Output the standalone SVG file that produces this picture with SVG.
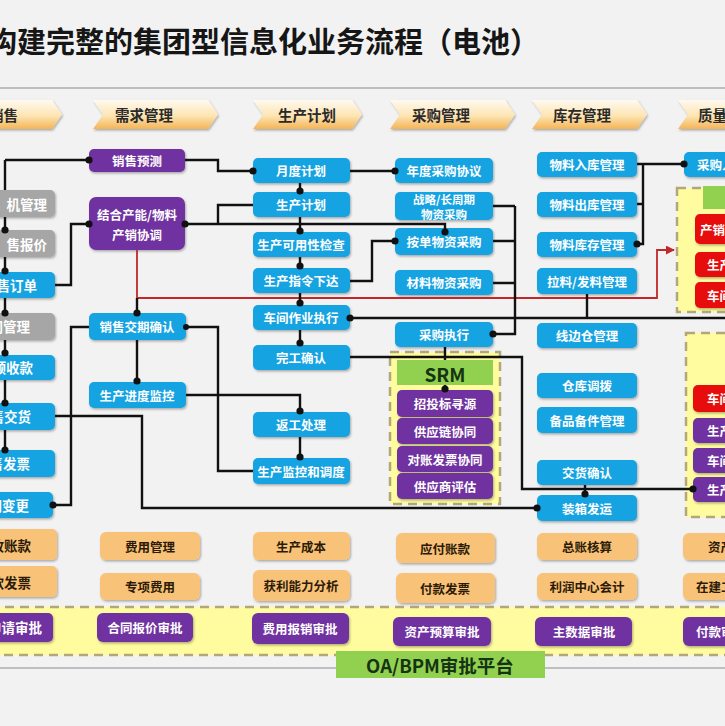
<svg xmlns="http://www.w3.org/2000/svg" width="725" height="726" viewBox="0 0 725 726">
<defs>
<linearGradient id="chev" x1="0" y1="0" x2="0" y2="1">
<stop offset="0" stop-color="#fffaf0"/>
<stop offset="0.55" stop-color="#fde4b2"/>
<stop offset="1" stop-color="#f4b457"/>
</linearGradient>
<filter id="sh" x="-10%" y="-20%" width="125%" height="150%">
<feDropShadow dx="1" dy="1.5" stdDeviation="1.2" flood-color="#000" flood-opacity="0.3"/>
</filter>
<marker id="ar" viewBox="0 0 10 10" refX="9" refY="5" markerWidth="5" markerHeight="5" orient="auto">
<path d="M0,0 L10,5 L0,10 z" fill="#c0282a"/>
</marker>
<style>
text{font-family:"Noto Sans CJK SC","Noto Sans",sans-serif;}
.t{font-size:12.5px;font-weight:700;text-anchor:middle;dominant-baseline:central;fill:#fff;}
.t2{font-size:11.5px;font-weight:700;text-anchor:middle;dominant-baseline:central;fill:#fff;}
.tl{font-size:13.5px;font-weight:700;text-anchor:end;dominant-baseline:central;fill:#fff;}
.ts{font-size:12.5px;font-weight:700;dominant-baseline:central;fill:#fff;}
.td{fill:#2b1a05;}
.h{font-size:14.5px;font-weight:700;fill:#2a2a2a;dominant-baseline:central;}
.b{fill:#17a3e2;filter:url(#sh);}
.g{fill:#a6a6a6;filter:url(#sh);}
.p{fill:#7030a0;filter:url(#sh);}
.o{fill:#f9c279;filter:url(#sh);}
.r{fill:#e8100f;filter:url(#sh);}
.gr{fill:#92d050;}
.ch{fill:url(#chev);filter:url(#sh);}
.dash{fill:#fefc9e;stroke:#b3a77a;stroke-width:2.5;stroke-dasharray:9 6;}
.ln{fill:none;stroke:#111;stroke-width:2.4;}
.red{fill:none;stroke:#c0282a;stroke-width:1.8;}
.dot{fill:#111;}
</style>
</defs>
<rect x="0" y="0" width="725" height="726" fill="#f2f2f2"/>
<text x="-12" y="53" font-size="29" font-weight="700" fill="#161616">构建完整的集团型信息化业务流程（电池）</text>
<line x1="0" y1="88" x2="725" y2="88" stroke="#8a8a8a" stroke-width="1.2"/>
<line x1="0" y1="668" x2="725" y2="668" stroke="#8a8a8a" stroke-width="1.2"/>

<g id="headers">
<g id="h1"><polygon class="ch" points="-60,100 52,100 62,114.5 52,129 -60,129 -50,114.5"/><text class="h" x="-11" y="114">销售</text></g>
<g id="h2"><polygon class="ch" points="93,100 208,100 218,114.5 208,129 93,129 103,114.5"/><text class="h" x="115" y="114">需求管理</text></g>
<g id="h3"><polygon class="ch" points="253,100 352,100 362,114.5 352,129 253,129 263,114.5"/><text class="h" x="278" y="114">生产计划</text></g>
<g id="h4"><polygon class="ch" points="390,100 505,100 515,114.5 505,129 390,129 400,114.5"/><text class="h" x="412" y="114">采购管理</text></g>
<g id="h5"><polygon class="ch" points="532,100 637,100 647,114.5 637,129 532,129 542,114.5"/><text class="h" x="553" y="114">库存管理</text></g>
<g id="h6"><polygon class="ch" points="678,100 790,100 800,114.5 790,129 678,129 688,114.5"/><text class="h" x="698" y="114">质量</text></g>
</g>

<g id="containers">
<rect id="band" class="dash" x="-10" y="607" width="745" height="48"/>
<rect id="srm-box" class="dash" x="390" y="352" width="110" height="152"/>
<rect id="q-box1" class="dash" x="677" y="188" width="60" height="124"/>
<rect id="q-box2" class="dash" x="686" y="333" width="50" height="184"/>
</g>

<g id="nodes">
<g id="n-l1"><rect class="g" x="-45" y="190" width="100" height="27" rx="5"/><text class="tl" x="47" y="204">机管理</text></g>
<g id="n-l2"><rect class="g" x="-45" y="230" width="100" height="27" rx="5"/><text class="tl" x="47" y="244">售报价</text></g>
<g id="n-l3"><rect class="b" x="-45" y="272" width="100" height="26" rx="5"/><text class="tl" x="37" y="285">售订单</text></g>
<g id="n-l4"><rect class="g" x="-45" y="313" width="100" height="27" rx="5"/><text class="tl" x="30" y="326">同管理</text></g>
<g id="n-l5"><rect class="b" x="-45" y="355" width="100" height="25" rx="5"/><text class="tl" x="33" y="367">预收款</text></g>
<g id="n-l6"><rect class="b" x="-45" y="403" width="100" height="27" rx="5"/><text class="tl" x="31" y="416">售交货</text></g>
<g id="n-l7"><rect class="b" x="-45" y="450" width="100" height="27" rx="5"/><text class="tl" x="30" y="463">售发票</text></g>
<g id="n-l8"><rect class="b" x="-45" y="492" width="98" height="26" rx="5"/><text class="tl" x="29" y="505">同变更</text></g>
<g id="n-l9"><rect class="o" x="-45" y="529" width="102" height="31" rx="5"/><text class="tl td" x="31" y="545">收账款</text></g>
<g id="n-l10"><rect class="o" x="-45" y="566" width="102" height="31" rx="5"/><text class="tl td" x="31" y="582">款发票</text></g>
<g id="n-l11"><rect class="p" x="-45" y="613" width="98" height="29" rx="5"/><text class="tl" x="42" y="627">申请审批</text></g>

<g id="n-xsyc"><rect class="p" x="89" y="149" width="96" height="23" rx="5"/><text class="t" x="137" y="160.5">销售预测</text></g>
<g id="n-cxxt"><rect class="p" x="89" y="197" width="96" height="53" rx="7"/><text class="t" x="137" y="214">结合产能/物料</text><text class="t" x="137" y="234">产销协调</text></g>
<g id="n-jqqr"><rect class="b" x="89" y="313" width="97" height="27" rx="5"/><text class="t" x="137" y="326.5">销售交期确认</text></g>
<g id="n-jdjk"><rect class="b" x="89" y="382" width="97" height="26" rx="5"/><text class="t" x="137" y="395">生产进度监控</text></g>
<g id="n-fygl"><rect class="o" x="100" y="532" width="100" height="28" rx="6"/><text class="t td" x="150" y="546">费用管理</text></g>
<g id="n-zxfy"><rect class="o" x="100" y="573" width="100" height="27" rx="6"/><text class="t td" x="150" y="586.5">专项费用</text></g>
<g id="n-htbj"><rect class="p" x="97" y="613" width="96" height="29" rx="6"/><text class="t" x="145" y="627.5">合同报价审批</text></g>

<g id="n-ydjh"><rect class="b" x="253" y="158" width="97" height="25" rx="5"/><text class="t" x="301" y="170.5">月度计划</text></g>
<g id="n-scjh"><rect class="b" x="253" y="192" width="97" height="25" rx="5"/><text class="t" x="301" y="204.5">生产计划</text></g>
<g id="n-kyx"><rect class="b" x="253" y="232" width="97" height="25" rx="5"/><text class="t" x="301" y="244.5">生产可用性检查</text></g>
<g id="n-zlxd"><rect class="b" x="253" y="268" width="97" height="25" rx="5"/><text class="t" x="301" y="280.5">生产指令下达</text></g>
<g id="n-cjzy"><rect class="b" x="253" y="305" width="97" height="25" rx="5"/><text class="t" x="301" y="317.5">车间作业执行</text></g>
<g id="n-wgqr"><rect class="b" x="253" y="345" width="97" height="25" rx="5"/><text class="t" x="301" y="357.5">完工确认</text></g>
<g id="n-fgcl"><rect class="b" x="253" y="412" width="97" height="25" rx="5"/><text class="t" x="301" y="424.5">返工处理</text></g>
<g id="n-jkdd"><rect class="b" x="253" y="458" width="97" height="26" rx="5"/><text class="t" x="301" y="471">生产监控和调度</text></g>
<g id="n-sccb"><rect class="o" x="253" y="532" width="97" height="28" rx="6"/><text class="t td" x="301" y="546">生产成本</text></g>
<g id="n-hlnl"><rect class="o" x="253" y="570" width="97" height="31" rx="6"/><text class="t td" x="301" y="585.5">获利能力分析</text></g>
<g id="n-fybx"><rect class="p" x="252" y="613" width="97" height="31" rx="6"/><text class="t" x="300" y="628.5">费用报销审批</text></g>

<g id="n-ndcg"><rect class="b" x="395" y="158" width="98" height="25" rx="5"/><text class="t" x="444" y="170.5">年度采购协议</text></g>
<g id="n-zlcg"><rect class="b" x="395" y="192" width="98" height="28" rx="5"/><text class="t2" x="444" y="199">战略/长周期</text><text class="t2" x="444" y="213.5">物资采购</text></g>
<g id="n-adcg"><rect class="b" x="395" y="228" width="98" height="27" rx="5"/><text class="t" x="444" y="241.5">按单物资采购</text></g>
<g id="n-clcg"><rect class="b" x="395" y="270" width="98" height="25" rx="5"/><text class="t" x="444" y="282.5">材料物资采购</text></g>
<g id="n-cgzx"><rect class="b" x="395" y="322" width="98" height="25" rx="5"/><text class="t" x="444" y="334.5">采购执行</text></g>
<g id="n-srm"><rect class="gr" x="397" y="360" width="96" height="25"/><text x="445" y="373" font-size="19" font-weight="700" fill="#143414" text-anchor="middle" dominant-baseline="central">SRM</text></g>
<g id="n-ztb"><rect class="p" x="397" y="390" width="96" height="27" rx="5"/><text class="t" x="445" y="403.5">招投标寻源</text></g>
<g id="n-gylxt"><rect class="p" x="397" y="418" width="96" height="26" rx="5"/><text class="t" x="445" y="431">供应链协同</text></g>
<g id="n-dzfp"><rect class="p" x="397" y="446" width="96" height="26" rx="5"/><text class="t" x="445" y="459">对账发票协同</text></g>
<g id="n-gyspg"><rect class="p" x="397" y="473" width="96" height="26" rx="5"/><text class="t" x="445" y="486">供应商评估</text></g>
<g id="n-yfzk"><rect class="o" x="396" y="533" width="99" height="30" rx="6"/><text class="t td" x="445" y="548">应付账款</text></g>
<g id="n-fkfp"><rect class="o" x="396" y="573" width="99" height="30" rx="6"/><text class="t td" x="445" y="588">付款发票</text></g>
<g id="n-zcys"><rect class="p" x="393" y="617" width="98" height="29" rx="6"/><text class="t" x="442" y="631.5">资产预算审批</text></g>

<g id="n-rkgl"><rect class="b" x="537" y="152" width="100" height="25" rx="5"/><text class="t" x="587" y="164.5">物料入库管理</text></g>
<g id="n-ckgl"><rect class="b" x="537" y="192" width="100" height="25" rx="5"/><text class="t" x="587" y="204.5">物料出库管理</text></g>
<g id="n-kcgl"><rect class="b" x="537" y="232" width="100" height="25" rx="5"/><text class="t" x="587" y="244.5">物料库存管理</text></g>
<g id="n-llfl"><rect class="b" x="537" y="268" width="100" height="26" rx="5"/><text class="t" x="587" y="281">拉料/发料管理</text></g>
<g id="n-xbc"><rect class="b" x="537" y="323" width="100" height="25" rx="5"/><text class="t" x="587" y="335.5">线边仓管理</text></g>
<g id="n-ckdb"><rect class="b" x="537" y="373" width="100" height="25" rx="5"/><text class="t" x="587" y="385.5">仓库调拨</text></g>
<g id="n-bpbj"><rect class="b" x="537" y="407" width="100" height="26" rx="5"/><text class="t" x="587" y="420">备品备件管理</text></g>
<g id="n-jhqr"><rect class="b" x="537" y="460" width="100" height="25" rx="5"/><text class="t" x="587" y="472.5">交货确认</text></g>
<g id="n-zxfy2"><rect class="b" x="537" y="495" width="100" height="26" rx="5"/><text class="t" x="587" y="508">装箱发运</text></g>
<g id="n-zzhs"><rect class="o" x="537" y="533" width="100" height="27" rx="6"/><text class="t td" x="587" y="546.5">总账核算</text></g>
<g id="n-lrzx"><rect class="o" x="537" y="573" width="100" height="27" rx="6"/><text class="t td" x="587" y="586.5">利润中心会计</text></g>
<g id="n-zsj"><rect class="p" x="535" y="617" width="97" height="29" rx="6"/><text class="t" x="584" y="631.5">主数据审批</text></g>

<g id="n-cgrk"><rect class="b" x="684" y="152" width="60" height="25" rx="5"/><text class="ts" x="697" y="164.5">采购入</text></g>
<g id="n-q-green1"><rect class="gr" x="703" y="186" width="30" height="23"/></g>
<g id="n-q-r1"><rect class="r" x="695" y="214" width="45" height="30" rx="5"/><text class="ts" x="700" y="229">产销</text></g>
<g id="n-q-r2"><rect class="r" x="695" y="252" width="45" height="25" rx="5"/><text class="ts" x="707" y="264.5">生产</text></g>
<g id="n-q-r3"><rect class="r" x="695" y="282" width="45" height="26" rx="5"/><text class="ts" x="707" y="295">车间</text></g>
<g id="n-q-r4"><rect class="r" x="693" y="385" width="45" height="27" rx="5"/><text class="ts" x="707" y="398.5">车间</text></g>
<g id="n-q-p1"><rect class="p" x="693" y="418" width="45" height="25" rx="5"/><text class="ts" x="707" y="430.5">生产</text></g>
<g id="n-q-p2"><rect class="p" x="693" y="448" width="45" height="25" rx="5"/><text class="ts" x="707" y="460.5">车间</text></g>
<g id="n-q-p3"><rect class="p" x="693" y="477" width="45" height="25" rx="5"/><text class="ts" x="707" y="489.5">生产</text></g>
<g id="n-zc"><rect class="o" x="683" y="533" width="60" height="27" rx="6"/><text class="ts td" x="708" y="546.5">资产</text></g>
<g id="n-zjg"><rect class="o" x="683" y="573" width="60" height="27" rx="6"/><text class="ts td" x="696" y="586.5">在建工</text></g>
<g id="n-fksp"><rect class="p" x="683" y="617" width="60" height="29" rx="6"/><text class="ts" x="696" y="631.5">付款审</text></g>

<g id="n-oa"><rect class="gr" x="336" y="651" width="209" height="27"/><text x="440" y="665" font-size="18.5" font-weight="700" fill="#143414" text-anchor="middle" dominant-baseline="central">OA/BPM审批平台</text></g>
</g>

<g id="connectors">
<path class="red" d="M137,250 V298 H657 V250 H674" marker-end="url(#ar)"/>
<path class="ln" d="M137,298 V313"/>
<path class="ln" d="M5,160 V190 M5,217 V230 M5,257 V272 M5,298 V313 M5,340 V355 M5,380 V403 M5,430 V450"/>
<path class="ln" d="M5,160 H89"/>
<path class="ln" d="M185,160 H218 V171 H253"/>
<path class="ln" d="M55,285 H71 V224 H89"/>
<path class="ln" d="M185,224 H445 V232"/>
<path class="ln" d="M218,224 V205 H253"/>
<path class="ln" d="M300,183 V192 M300,217 V232 M300,257 V268 M300,293 V305 M300,330 V345 M300,437 V458"/>
<path class="ln" d="M350,171 H395"/>
<path class="ln" d="M350,281 H372 V241 H395"/>
<path class="ln" d="M53,505 H71 V327 H89"/>
<path class="ln" d="M186,327 H218 V471 H253"/>
<path class="ln" d="M137,340 V382"/>
<path class="ln" d="M186,395 H300 V412"/>
<path class="ln" d="M55,416 H142 V508 H537"/>
<path class="ln" d="M350,318 H725"/>
<path class="ln" d="M587,294 V318"/>
<path class="ln" d="M350,357 H522 V489 H693"/>
<path class="ln" d="M585,485 V495"/>
<path class="ln" d="M493,206 H515 M493,241 H515 M493,283 H515 M515,206 V334 H493"/>
<path class="ln" d="M445,347 V360 M445,385 V390"/>
<path class="ln" d="M637,164 H684 M643,164 V244 H637 M637,204 H643"/>
<g id="dots">
<circle class="dot" cx="89" cy="160" r="3.6"/>
<circle class="dot" cx="253" cy="171" r="3.6"/>
<circle class="dot" cx="300" cy="191" r="3.6"/>
<circle class="dot" cx="89" cy="224" r="3.6"/>
<circle class="dot" cx="185" cy="224" r="3.6"/>
<circle class="dot" cx="300" cy="231" r="3.6"/>
<circle class="dot" cx="445" cy="232" r="3.6"/>
<circle class="dot" cx="395" cy="241" r="3.6"/>
<circle class="dot" cx="395" cy="171" r="3.6"/>
<circle class="dot" cx="300" cy="266" r="3.6"/>
<circle class="dot" cx="300" cy="303" r="3.6"/>
<circle class="dot" cx="350" cy="318" r="3.6"/>
<circle class="dot" cx="300" cy="343" r="3.6"/>
<circle class="dot" cx="300" cy="411" r="3.6"/>
<circle class="dot" cx="300" cy="457" r="3.6"/>
<circle class="dot" cx="137" cy="313" r="3.6"/>
<circle class="dot" cx="137" cy="381" r="3.6"/>
<circle class="dot" cx="186" cy="327" r="3"/>
<circle class="dot" cx="493" cy="334" r="3.6"/>
<circle class="dot" cx="445" cy="389" r="3.6"/>
<circle class="dot" cx="637" cy="244" r="3.6"/>
<circle class="dot" cx="684" cy="164" r="3.6"/>
<circle class="dot" cx="693" cy="489" r="3.6"/>
<circle class="dot" cx="585" cy="494" r="3.6"/>
<circle class="dot" cx="537" cy="508" r="3.6"/>
<circle class="dot" cx="53" cy="505" r="3.6"/>
<circle class="dot" cx="5" cy="230" r="3.6"/>
<circle class="dot" cx="5" cy="271" r="3.6"/>
<circle class="dot" cx="5" cy="313" r="3.6"/>
<circle class="dot" cx="5" cy="353" r="3.6"/>
<circle class="dot" cx="5" cy="403" r="3.6"/>
<circle class="dot" cx="5" cy="450" r="3.6"/>
</g>
</g>
</svg>
